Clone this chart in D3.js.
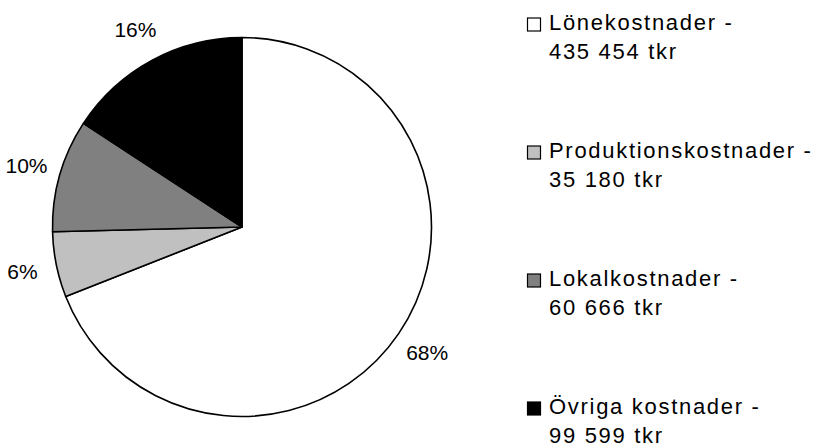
<!DOCTYPE html>
<html>
<head>
<meta charset="utf-8">
<script src="https://cdn.jsdelivr.net/npm/d3@7"></script>
<style>
  html, body { margin: 0; padding: 0; background: #fff; }
  svg { display: block; font-family: "Liberation Sans", Arial, sans-serif; }
</style>
</head>
<body>
<svg id="chart" width="818" height="446"></svg>
<script>
// chart data
const categories = ['Lönekostnader', 'Produktionskostnader', 'Lokalkostnader', 'Övriga kostnader'];
const amounts = [435454, 35180, 60666, 99599]; // tkr
const amountLabels = ['435 454 tkr', '35 180 tkr', '60 666 tkr', '99 599 tkr'];
const pctLabels = ['68%', '6%', '10%', '16%'];
const fills = ['#ffffff', '#c0c0c0', '#808080', '#000000'];

const W = 818, H = 446;
const cx = 242, cy = 227, R = 189.5;
const LABEL_R = 224;

const svg = d3.select('#chart');

const slices = categories.map((name, i) => ({
  name,
  value: amounts[i],
  amount: amountLabels[i],
  pct: pctLabels[i],
  fill: fills[i],
}));

const pie = d3.pie().value(d => d.value).sort(null);
const arc = d3.arc().innerRadius(0).outerRadius(R);
const arcs = pie(slices);

const g = svg.append('g').attr('transform', `translate(${cx},${cy})`);

g.selectAll('path.slice')
  .data(arcs)
  .enter()
  .append('path')
  .attr('class', 'slice')
  .attr('d', arc)
  .attr('fill', d => d.data.fill)
  .attr('stroke', '#000')
  .attr('stroke-width', 1.6)
  .attr('stroke-linejoin', 'round');

// percentage labels outside the pie, along each slice's mid angle
const labelArc = d3.arc().innerRadius(LABEL_R).outerRadius(LABEL_R);
g.selectAll('text.pct')
  .data(arcs)
  .enter()
  .append('text')
  .attr('class', 'pct')
  .attr('transform', d => `translate(${labelArc.centroid(d)})`)
  .attr('text-anchor', 'middle')
  .attr('dy', '0.35em')
  .attr('font-size', 21)
  .attr('fill', '#000')
  .text(d => d.data.pct);

// legend
const legendX = 527, legendY = 29.5, legendStep = 128, lineGap = 29;
const legend = svg.append('g').attr('class', 'legend');

const item = legend.selectAll('g.item')
  .data(slices)
  .enter()
  .append('g')
  .attr('class', 'item')
  .attr('transform', (d, i) => `translate(${legendX},${legendY + i * legendStep})`);

item.append('rect')
  .attr('x', 0.5)
  .attr('y', -11.5)
  .attr('width', 13)
  .attr('height', 13)
  .attr('fill', d => d.fill)
  .attr('stroke', '#000')
  .attr('stroke-width', 1.2);

const txt = item.append('text')
  .attr('x', 22)
  .attr('font-size', 22)
  .attr('letter-spacing', 1.7)
  .attr('fill', '#000');

txt.append('tspan').attr('x', 22).attr('y', 0).text(d => `${d.name} -`);
txt.append('tspan').attr('x', 22).attr('y', lineGap).text(d => d.amount);
</script>
</body>
</html>
